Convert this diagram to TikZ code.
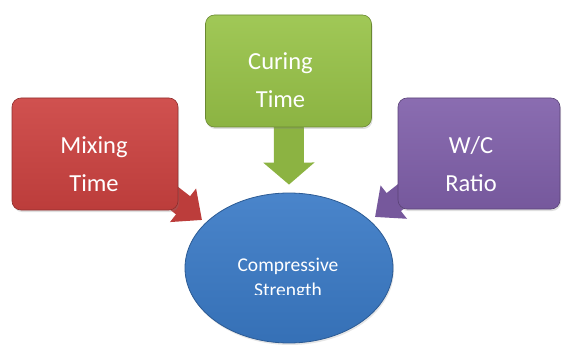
\documentclass[tikz,border=0pt]{standalone}
\usepackage{fontspec}
\setmainfont{Carlito}
\usetikzlibrary{arrows.meta,positioning,shapes.geometric,shadows,backgrounds}
\definecolor{mixred}{HTML}{CC4240}
\definecolor{curegreen}{HTML}{98C348}
\definecolor{ratiopurple}{HTML}{8060AA}
\definecolor{csblue}{HTML}{3A7AC6}

\begin{document}
\begin{tikzpicture}[x=1pt,y=-1pt,
  factor/.style={rectangle,rounded corners=9pt,minimum width=166pt,minimum height=112pt,
    draw=#1!70!black,line width=0.6pt,top color=#1!92!white,bottom color=#1!92!black,
    drop shadow={opacity=0.25,shadow xshift=1pt,shadow yshift=-2pt}},
  factortext/.style={text=white,align=center,font=\fontsize{24.5}{38}\selectfont},
  feed/.style={line width=23pt,draw=#1!92!black,-{Triangle[width=41pt,length=24pt]}}]
  \useasboundingbox (0,0) rectangle (563,345);
  % the three factors
  \node[factor=mixred] (mix) at (95,154) {};
  \node[factor=curegreen] (cure) at (288.5,71) {};
  \node[factor=ratiopurple,minimum width=162pt,minimum height=111pt] (ratio) at (479,153.5) {};
  \node[factortext] (mixlabel) at ([shift={(-1,10)}]mix.center) {Mixing\\Time};
  \node[factortext] (curelabel) at ([shift={(-8,9)}]cure.center) {Curing\\Time};
  \node[factortext] (ratiolabel) at ([shift={(-8,11)}]ratio.center) {W/C\\Ratio};
  % result
  \node[ellipse,minimum width=208pt,minimum height=150pt,draw=csblue!75!black,line width=0.8pt,
    top color=csblue!92!white,bottom color=csblue!92!black,
    drop shadow={opacity=0.2,shadow xshift=1pt,shadow yshift=-2pt}] (cs) at (289,268) {};
  \begin{scope}
    \clip (185,180) rectangle (395,294);
    \node[text=white,align=center,font=\fontsize{19.5}{25}\selectfont] (cslabel) at (288,279)
      {Compressive\\Strength};
  \end{scope}
  % block arrows into the result
  \begin{scope}[on background layer]
    \draw[feed=mixred] ([shift={(-39,-39)}]mix.south east) -- ([shift={(-87,-48)}]cs.center);
    \draw[feed=curegreen,line width=30pt,-{Triangle[width=50pt,length=22pt]}]
      (cure.center) -- ([yshift=8pt]cs.north);
    \draw[feed=ratiopurple] ([shift={(40,-42)}]ratio.south west) -- ([shift={(86,-51)}]cs.center);
  \end{scope}
\end{tikzpicture}
\end{document}
